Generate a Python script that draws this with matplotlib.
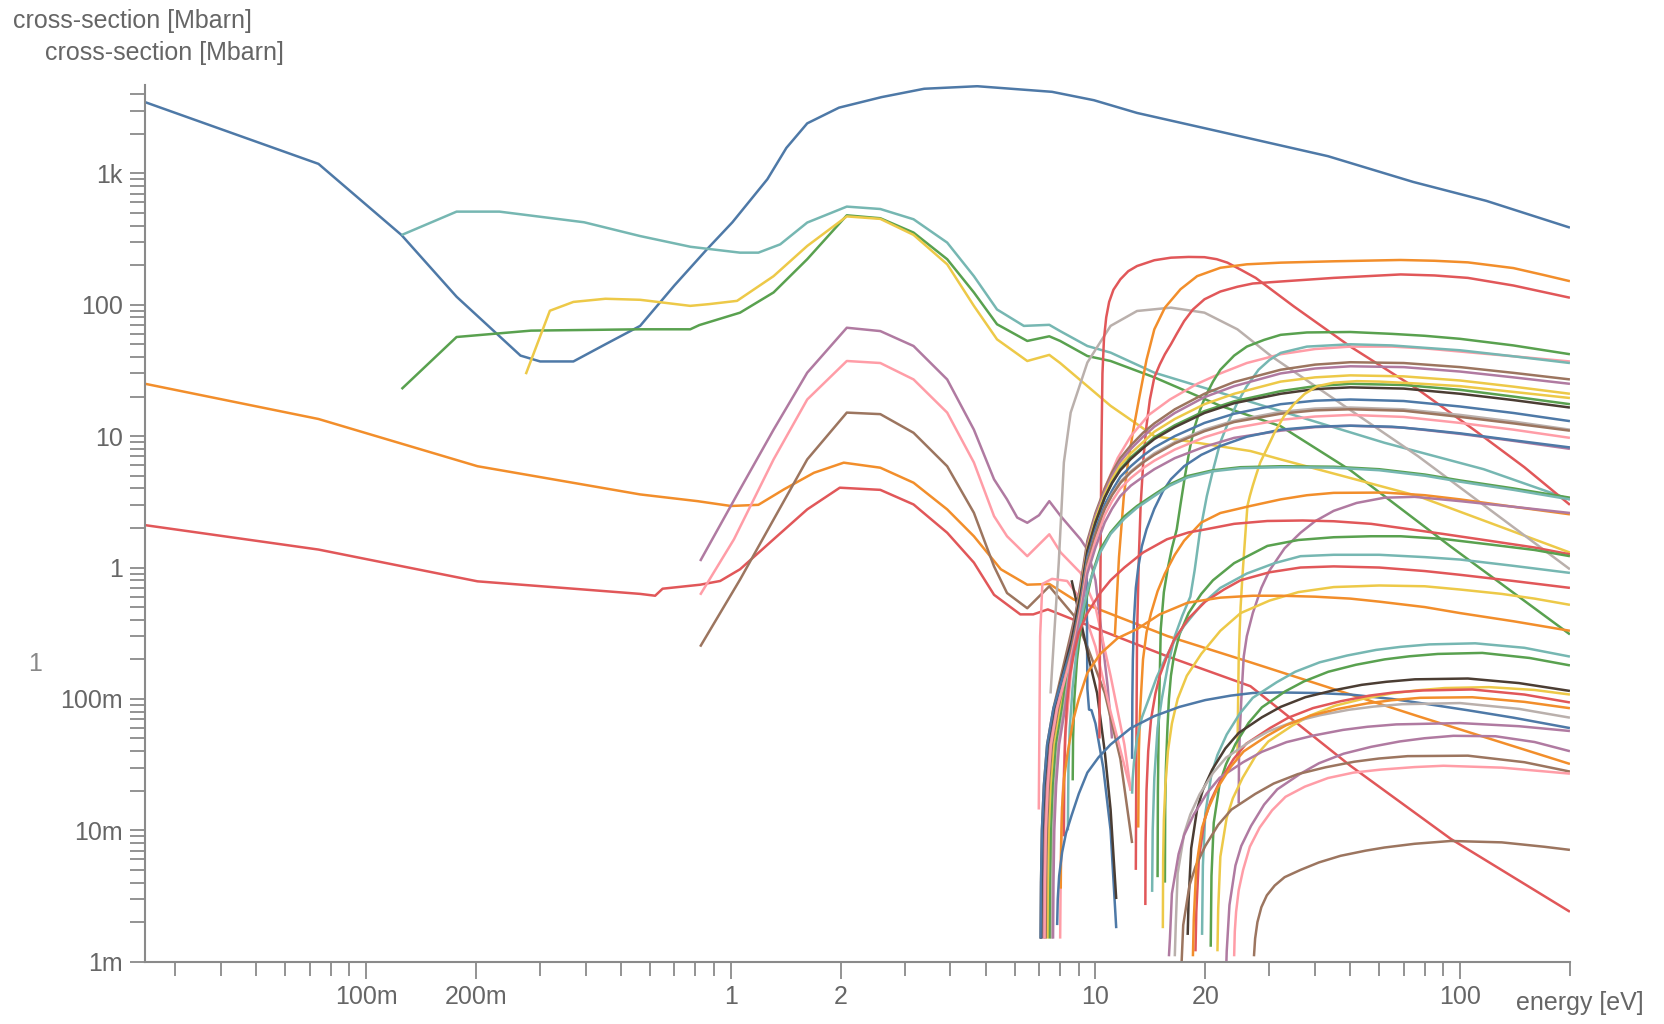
import matplotlib
matplotlib.use("Agg")
import matplotlib.pyplot as plt
from matplotlib.ticker import FixedLocator, FixedFormatter, NullFormatter

plt.rcParams['font.family'] = ['Liberation Sans', 'DejaVu Sans']

BLUE = '#4e79a7'
ORANGE = '#f28e2b'
RED = '#e15759'
TEAL = '#76b7b2'
GREEN = '#59a14f'
YELLOW = '#edc948'
PURPLE = '#b07aa1'
PINK = '#ff9da7'
BROWN = '#9c755f'
GRAY = '#bab0ac'
DARK = '#4b3d33'

# ---- main curves (energy eV, cross-section Mbarn) ----
blue_e = [0.0248, 0.074, 0.125, 0.177, 0.265, 0.30, 0.37, 0.453, 0.564, 0.70, 0.86, 1.01, 1.26, 1.42, 1.62, 1.98,
          2.59, 3.39, 4.74, 7.6, 9.9, 13.0, 22.2, 43.4, 74.3, 118, 200]
blue_s = [3475, 1180, 339, 115, 41, 37, 37, 50, 69, 140, 264, 424, 903, 1560, 2400, 3160,
          3800, 4400, 4600, 4170, 3600, 2880, 2060, 1350, 860, 617, 386]

orange_e = [0.0248, 0.074, 0.202, 0.564, 0.81, 1.0, 1.19, 1.4, 1.69, 2.04, 2.57, 3.17, 3.92, 4.64, 5.5, 6.5,
            7.47, 8.73, 15.8, 26.6, 76.5, 200]
orange_s = [25, 13.5, 5.9, 3.6, 3.2, 2.94, 3.0, 3.94, 5.26, 6.28, 5.75, 4.42, 2.77, 1.73, 0.97, 0.74,
            0.75, 0.57, 0.30, 0.19, 0.074, 0.032]

red_e = [0.0248, 0.074, 0.202, 0.396, 0.564, 0.62, 0.65, 0.824, 0.935, 1.06, 1.31, 1.62, 1.99, 2.57, 3.17, 3.92,
         4.64, 5.27, 6.22, 6.75, 7.4, 8.73, 15.8, 26.6, 50, 94.3, 200]
red_s = [2.1, 1.37, 0.785, 0.68, 0.63, 0.61, 0.69, 0.74, 0.79, 0.97, 1.64, 2.77, 4.05, 3.9, 3.02, 1.84,
         1.09, 0.62, 0.44, 0.44, 0.48, 0.40, 0.21, 0.125, 0.031, 0.0086, 0.0024]

teal_e = [0.125, 0.177, 0.232, 0.396, 0.564, 0.775, 1.06, 1.19, 1.366, 1.62, 2.08, 2.57, 3.17, 3.92, 4.64, 5.37,
          6.36, 7.47, 8.0, 9.5, 11.0, 14.5, 27, 62, 116, 200]
teal_s = [339, 511, 511, 424, 333, 276, 249, 249, 288, 422, 558, 535, 447, 297, 165, 92,
          69, 70.3, 63, 48.5, 43.2, 30.4, 18, 8.9, 5.6, 3.3]

green_e = [0.125, 0.177, 0.283, 0.564, 0.774, 0.82, 1.06, 1.31, 1.62, 2.08, 2.57, 3.17, 3.92, 4.64, 5.37, 6.5,
           7.47, 8.0, 9.5, 11.0, 14.5, 22, 32.2, 50, 94, 200]
green_s = [22.8, 56.8, 63.5, 65, 65, 70, 87, 124, 222, 479, 455, 354, 222, 124, 71, 53,
           57.5, 53, 40.7, 37.3, 28, 17, 11.9, 5.5, 1.45, 0.31]

yellow_e = [0.274, 0.319, 0.37, 0.453, 0.564, 0.774, 0.87, 1.04, 1.31, 1.62, 2.08, 2.57, 3.17, 3.92, 4.64, 5.37,
            6.5, 7.47, 8.0, 11.0, 14.5, 26.6, 32.2, 76.5, 200]
yellow_s = [29.6, 90, 105, 111, 109, 98, 101, 107, 165, 280, 470, 450, 340, 203, 98, 54.5,
            37.3, 41.5, 36, 17, 10, 7.7, 6.65, 3.5, 1.3]

purple_e = [0.824, 1.06, 1.31, 1.62, 2.08, 2.57, 3.17, 3.92, 4.64, 5.27, 5.72, 6.1, 6.5, 7.0, 7.47, 8.03,
            9.1, 9.5, 10.0, 10.8, 11.1]
purple_s = [1.12, 3.94, 11.2, 30.4, 66.8, 63, 48.5, 27, 11.2, 4.69, 3.3, 2.4, 2.19, 2.5, 3.2, 2.46,
            1.64, 1.37, 0.8, 0.124, 0.05]

pink_e = [0.824, 1.02, 1.31, 1.62, 2.08, 2.57, 3.17, 3.92, 4.64, 5.27, 5.72, 6.5, 7.47, 8.03, 9.1, 10.0,
          11.0, 12.0, 12.5]
pink_s = [0.62, 1.64, 6.65, 19, 37.3, 36, 27, 15.1, 6.3, 2.46, 1.73, 1.22, 1.79, 1.3, 0.91, 0.5,
          0.15, 0.045, 0.02]

brown_e = [0.824, 1.06, 1.31, 1.62, 2.08, 2.57, 3.17, 3.92, 4.64, 5.27, 5.72, 6.5, 7.47, 8.73, 9.5, 10.6,
           11.7, 12.6]
brown_s = [0.25, 0.81, 2.32, 6.65, 15.1, 14.7, 10.6, 5.9, 2.61, 1.02, 0.64, 0.49, 0.72, 0.43, 0.25, 0.111,
           0.035, 0.008]

gray_e = [7.53, 7.7, 7.93, 8.19, 8.55, 9.5, 11.0, 13.0, 16.1, 19.9, 24.5, 30.3, 76.5, 200]
gray_s = [0.11, 0.3, 1.09, 6.3, 15.1, 36.3, 69, 89.6, 95, 87, 65, 40.7, 7.06, 0.97]

# ---- short decaying curves around 7-12 eV ----
pinkspike_e = [6.99, 7.05, 7.15, 7.6, 8.36, 9.0, 10.0, 11.0, 12.5]
pinkspike_s = [0.0144, 0.3, 0.75, 0.82, 0.79, 0.6, 0.25, 0.08, 0.02]
bluedecay_e = [9.45, 9.5, 9.6, 9.75, 10.0, 10.5, 11.0, 11.4]
bluedecay_s = [1.2, 0.12, 0.083, 0.082, 0.065, 0.03, 0.01, 0.0018]
darkdecay_e = [8.6, 9.1, 9.6, 10.1, 10.6, 11.0, 11.4]
darkdecay_s = [0.8, 0.40, 0.2, 0.111, 0.04, 0.0144, 0.003]

# ---- dense bundle, onset near 7-8 eV ----
bundle_tail_e = [8.6, 8.85, 9.1, 9.5, 10.0, 10.6, 11.1, 11.7, 12.5, 13.5, 14.5, 16.5, 19.9, 24, 32.2, 40, 50, 70,
                 100, 140, 200]
bundle_head_s = [0.0015, 0.004, 0.01, 0.022, 0.045, 0.085]
b1_e = [7.07, 7.09, 7.13, 7.22, 7.37, 7.67] + bundle_tail_e
b1_s = bundle_head_s + [0.33, 0.47, 0.75, 1.6, 2.6, 4.0, 5.3, 6.8, 8.5, 10.6, 12.5, 16, 21, 25.8, 32, 35, 36.5, 36,
                        33.5, 30.3, 27]
b2_e = [7.2, 7.22, 7.26, 7.35, 7.5, 7.8] + bundle_tail_e
b2_s = bundle_head_s + [0.3, 0.45, 0.7, 1.5, 2.5, 3.8, 5.0, 6.4, 8.0, 9.9, 11.8, 15, 19.8, 24, 30, 32.7, 34, 33.5,
                        31, 28, 25]
b3_e = [7.4, 7.42, 7.46, 7.55, 7.7, 8.0] + bundle_tail_e
b3_s = bundle_head_s + [0.28, 0.42, 0.65, 1.4, 2.35, 3.6, 4.7, 6.0, 7.4, 9.0, 10.8, 13.5, 17.5, 21, 26, 28, 29, 28.5,
                        26.5, 23.8, 21]
b4_e = [7.5, 7.52, 7.56, 7.65, 7.8, 8.1] + bundle_tail_e
b4_s = bundle_head_s + [0.26, 0.4, 0.6, 1.3, 2.2, 3.4, 4.4, 5.6, 6.9, 8.3, 9.8, 12.1, 15.5, 18.4, 22, 24, 25, 24.5,
                        22.5, 20, 17.5]
b5_e = [7.1, 7.12, 7.16, 7.25, 7.4, 7.7] + bundle_tail_e
b5_s = bundle_head_s + [0.28, 0.42, 0.62, 1.35, 2.2, 3.4, 4.4, 5.5, 6.7, 8.1, 9.5, 11.7, 15, 17.8, 21, 22.8, 23.5, 23,
                        21, 18.8, 16.5]
b6_e = [7.07, 7.09, 7.13, 7.22, 7.37, 7.67] + bundle_tail_e
b6_s = bundle_head_s + [0.25, 0.37, 0.55, 1.2, 1.95, 3.0, 3.85, 4.9, 5.9, 7.1, 8.2, 10, 12.6, 14.8, 17.5, 18.6, 19,
                        18.5, 16.8, 15, 13]
b7_e = [7.6, 7.62, 7.66, 7.75, 7.9, 8.2] + bundle_tail_e
b7_s = bundle_head_s + [0.22, 0.33, 0.5, 1.1, 1.8, 2.8, 3.6, 4.5, 5.4, 6.4, 7.4, 9, 11.2, 13.1, 15.3, 16.2, 16.5, 16,
                        14.5, 12.9, 11.2]
b8_e = [7.3, 7.32, 7.36, 7.45, 7.6, 7.9] + bundle_tail_e
b8_s = bundle_head_s + [0.24, 0.35, 0.52, 1.1, 1.8, 2.8, 3.55, 4.4, 5.3, 6.3, 7.2, 8.8, 10.9, 12.8, 14.8, 15.7, 16,
                        15.6, 14, 12.5, 11]
b9_e = [7.25, 7.27, 7.31, 7.4, 7.55, 7.85] + bundle_tail_e
b9_s = bundle_head_s + [0.22, 0.32, 0.48, 1.0, 1.6, 2.5, 3.2, 4.0, 4.8, 5.7, 6.5, 7.9, 9.8, 11.5, 13.3, 14.1, 14.5,
                        14, 12.6, 11.2, 9.7]
b10_e = [7.65, 7.67, 7.71, 7.8, 7.95, 8.25] + bundle_tail_e
b10_s = bundle_head_s + [0.2, 0.29, 0.43, 0.9, 1.42, 2.2, 2.8, 3.5, 4.2, 4.9, 5.6, 6.8, 8.3, 9.7, 11, 11.7, 12,
                         11.6, 10.4, 9.2, 8.0]

# ---- upper threshold curves ----
pink37_e = [8.0, 8.03, 8.1, 8.3, 8.55, 8.8, 9.1, 9.5, 10, 10.6, 11.5, 12.5, 14, 16, 19, 22, 26, 32.2, 40, 50, 65,
            80, 100, 140, 200]
pink37_s = [0.0015, 0.005, 0.015, 0.06, 0.15, 0.3, 0.6, 1.2, 2.3, 4, 6.8, 10, 14.5, 19, 25, 30, 36, 42, 46, 48, 48,
            46.5, 44, 40.5, 37]
green42_e = [14.8, 14.83, 14.9, 15.1, 15.4, 15.8, 16.2, 16.7, 17.1, 17.6, 18.1, 18.6, 19.3, 20, 21, 22, 24, 26, 29,
             32.2, 38, 50, 65, 80, 100, 140, 200]
green42_s = [0.0044, 0.02, 0.06, 0.34, 0.65, 1.0, 1.4, 1.95, 3.0, 5.0, 7.8, 11.2, 15.5, 20, 26, 32, 41, 48, 54,
             59, 61.5, 62, 60, 58, 55, 49, 42]
teal36_e = [14.3, 14.35, 14.5, 14.8, 15.2, 15.8, 16.5, 17.3, 18.2, 18.7, 19.3, 20.2, 21, 22, 23.2, 24.5, 26, 28, 30,
            32.2, 38, 50, 65, 80, 100, 140, 200]
teal36_s = [0.0034, 0.01, 0.025, 0.06, 0.1, 0.18, 0.3, 0.43, 0.6, 0.95, 1.8, 3.5, 5.5, 9, 13, 18, 24, 32, 38, 43,
            48, 50, 49, 47, 45, 40.5, 36]
navy_e = [12.6, 12.62, 12.66, 12.75, 12.9, 13.1, 13.4, 13.8, 14.5, 15.3, 16.1, 17.5, 19.5, 22, 26, 32.2, 40, 50, 65,
          80, 100, 140, 200]
navy_s = [0.035, 0.1, 0.2, 0.4, 0.7, 1.0, 1.45, 1.95, 2.8, 3.8, 4.7, 5.9, 7.2, 8.4, 9.9, 11.2, 11.8, 12, 11.8, 11.2,
          10.5, 9.3, 8.2]
redpeak_e = [10.25, 10.28, 10.32, 10.38, 10.45, 10.55, 10.7, 10.9, 11.2, 11.7, 12.3, 13.0, 14.5, 16.1, 18, 19.9,
             21.5, 23.0, 25, 27.5, 35, 50, 76.5, 110, 150, 200]
redpeak_s = [0.05, 0.2, 1.0, 8, 30, 55, 80, 105, 130, 156, 180, 197, 218, 228, 231, 230, 222, 209, 185, 160, 97, 48,
             22.7, 11, 5.8, 3.0]
orangehi_e = [11.3, 11.4, 11.6, 11.96, 12.3, 12.7, 13.2, 13.8, 14.5, 15.5, 17.1, 19, 22, 26, 32.2, 45, 68.6, 85,
              105, 140, 170, 200]
orangehi_s = [0.3, 0.48, 1.2, 3.5, 6.5, 11.2, 20, 38, 65, 95, 131, 165, 191, 203, 209, 214, 219, 216, 210, 190, 168,
              151]
redhi_e = [12.9, 12.95, 13.0, 13.15, 13.3, 13.55, 13.8, 14.1, 14.5, 15.0, 15.5, 16.1, 16.7, 17.5, 18.5, 19.9, 22,
           24.5, 27, 32, 45, 68.7, 85, 105, 140, 200]
redhi_s = [0.005, 0.05, 0.3, 1.2, 3, 7, 12, 19, 28, 35, 42, 50, 60, 75, 92, 110, 126, 137, 145, 150, 160, 170, 167,
           160, 140, 113]
yellowlate_e = [24.5, 24.6, 24.7, 24.85, 25.0, 25.25, 25.5, 25.8, 26.1, 26.5, 27, 27.6, 28.3, 29.5, 30.9, 32.9, 35,
                37.5, 40.6, 45, 52, 60, 75, 100, 140, 200]
yellowlate_s = [0.035, 0.09, 0.2, 0.33, 0.5, 0.8, 1.2, 1.9, 2.94, 3.5, 4.2, 5.1, 6.3, 8.0, 10.5, 14.2, 17.5, 21, 24,
                25.5, 26.2, 26, 25.2, 24, 21.7, 19.5]

# ---- middle threshold curves ----
green3_e = [8.66, 8.68, 8.75, 8.9, 9.1, 9.4, 9.8, 10.3, 11, 12, 13, 14.5, 16, 17.9, 21, 25, 32.2, 45, 60, 80, 100,
            140, 200]
green3_s = [0.024, 0.05, 0.1, 0.2, 0.33, 0.55, 0.9, 1.37, 1.85, 2.45, 2.94, 3.6, 4.3, 4.97, 5.5, 5.8, 5.9, 5.85, 5.6,
            5.1, 4.6, 4.0, 3.4]
teal3_e = [8.4, 8.43, 8.5, 8.65, 8.9, 9.2, 9.6, 10.3, 11, 12, 13, 14.5, 16, 17.9, 21, 25, 32.2, 45, 60, 80, 100,
           140, 200]
teal3_s = [0.01, 0.03, 0.06, 0.12, 0.25, 0.45, 0.75, 1.3, 1.8, 2.35, 2.85, 3.5, 4.2, 4.85, 5.4, 5.7, 5.8, 5.75, 5.5,
           5.0, 4.5, 3.9, 3.3]
orange25_e = [13.1, 13.15, 13.25, 13.5, 13.8, 14.2, 14.8, 15.5, 16.5, 17.5, 19.5, 22, 26.6, 32.2, 38, 45, 62, 80,
              100, 140, 200]
orange25_s = [0.0105, 0.04, 0.08, 0.2, 0.32, 0.45, 0.66, 0.9, 1.25, 1.6, 2.2, 2.6, 2.94, 3.3, 3.55, 3.7, 3.72, 3.55,
              3.3, 2.9, 2.54]
purplelate_e = [24.7, 24.75, 24.9, 25.2, 25.5, 26, 27, 28.5, 30, 33, 36.5, 40, 45, 52, 62, 75, 100, 140, 200]
purplelate_s = [0.016, 0.035, 0.06, 0.12, 0.21, 0.3, 0.45, 0.7, 0.95, 1.4, 1.84, 2.25, 2.7, 3.1, 3.4, 3.45, 3.2, 2.9,
                2.6]
red21_e = [8.19, 8.21, 8.25, 8.35, 8.5, 8.75, 9.0, 9.5, 10.3, 11, 12, 13.5, 15.7, 18, 20, 24, 29.6, 37, 45, 57, 68.7,
           90, 120, 160, 200]
red21_s = [0.009, 0.025, 0.05, 0.09, 0.15, 0.23, 0.32, 0.45, 0.64, 0.8, 1.0, 1.3, 1.64, 1.85, 1.95, 2.15, 2.26, 2.28,
           2.25, 2.15, 2.0, 1.8, 1.6, 1.42, 1.26]
green16_e = [15.5, 15.53, 15.6, 15.75, 15.9, 16.1, 16.4, 17, 18, 19.5, 21, 24, 29.6, 36, 45, 57, 68.7, 90, 120, 160,
             200]
green16_s = [0.004, 0.015, 0.03, 0.06, 0.1, 0.15, 0.21, 0.31, 0.45, 0.63, 0.8, 1.08, 1.46, 1.62, 1.7, 1.73, 1.73,
             1.65, 1.5, 1.36, 1.22]
teal11_e = [12.6, 12.65, 12.75, 13.0, 13.4, 14.0, 14.7, 15.5, 16.5, 17.5, 19.5, 22, 26, 31, 36.5, 45, 60, 80, 100,
            140, 200]
teal11_s = [0.019, 0.025, 0.033, 0.05, 0.072, 0.1, 0.145, 0.2, 0.28, 0.36, 0.52, 0.7, 0.9, 1.08, 1.22, 1.25, 1.25,
            1.2, 1.15, 1.03, 0.91]
red095_e = [13.7, 13.72, 13.8, 13.95, 14.2, 14.6, 15, 15.7, 16.4, 18, 20, 22.5, 25, 30, 36.5, 45, 60, 80, 100, 140,
            200]
red095_s = [0.0027, 0.008, 0.02, 0.04, 0.07, 0.11, 0.15, 0.21, 0.28, 0.41, 0.55, 0.68, 0.8, 0.92, 1.0, 1.02, 1.0,
            0.94, 0.88, 0.79, 0.70]
yellow075_e = [15.3, 15.33, 15.4, 15.55, 15.8, 16.2, 16.8, 17.8, 19.5, 22, 25, 30, 36, 45, 60, 80, 100, 130, 160, 200]
yellow075_s = [0.0018, 0.006, 0.012, 0.022, 0.04, 0.065, 0.1, 0.15, 0.22, 0.33, 0.45, 0.56, 0.65, 0.71, 0.73, 0.72,
               0.68, 0.63, 0.58, 0.52]
orange06_e = [8.03, 8.05, 8.1, 8.2, 8.4, 8.7, 9.0, 9.5, 10.3, 11.5, 13, 15, 17.9, 22, 27, 32.2, 40, 50, 60, 80, 100,
              140, 200]
orange06_s = [0.0036, 0.008, 0.015, 0.025, 0.04, 0.07, 0.1, 0.158, 0.22, 0.29, 0.34, 0.44, 0.54, 0.59, 0.61, 0.61,
              0.6, 0.58, 0.55, 0.5, 0.45, 0.39, 0.33]

# ---- lower threshold curves ----
low_teal_e = [19.6, 19.7, 20.0, 20.8, 21.6, 22.9, 24.9, 27.0, 31.4, 35.3, 41.2, 49.0, 58.8, 68.6, 82.3, 110, 150, 200]
low_teal_s = [0.0016, 0.0054, 0.0134, 0.0268, 0.0375, 0.0536, 0.0777, 0.102, 0.134, 0.161, 0.19, 0.214, 0.236, 0.249,
              0.26, 0.265, 0.245, 0.21]
low_green_e = [20.7, 20.8, 21.1, 21.9, 22.8, 24.2, 26.3, 28.6, 33.1, 37.3, 43.5, 51.8, 62.1, 72.5, 86.9, 115, 155, 200]
low_green_s = [0.0013, 0.0045, 0.0114, 0.0227, 0.0318, 0.0454, 0.0658, 0.0863, 0.114, 0.136, 0.161, 0.182, 0.2,
               0.211, 0.22, 0.224, 0.205, 0.18]
low_dark_e = [17.9, 18.0, 18.3, 19.0, 19.7, 20.9, 22.7, 24.7, 28.6, 32.2, 37.6, 44.8, 53.7, 62.7, 75.2, 105, 145, 200]
low_dark_s = [0.0016, 0.0029, 0.0073, 0.0145, 0.0203, 0.029, 0.042, 0.0551, 0.0725, 0.087, 0.103, 0.116, 0.128, 0.135,
              0.141, 0.143, 0.132, 0.115]
low_yellow_e = [21.6, 21.7, 22.0, 22.9, 23.8, 25.3, 27.4, 29.8, 34.6, 38.9, 45.4, 54.0, 64.8, 75.6, 90.7, 120, 160,
                200]
low_yellow_s = [0.0012, 0.0025, 0.0063, 0.0125, 0.0175, 0.025, 0.0363, 0.0475, 0.0625, 0.075, 0.0888, 0.1, 0.11,
                0.116, 0.121, 0.123, 0.117, 0.108]
low_red_e = [18.8, 18.9, 19.2, 19.9, 20.7, 22.0, 23.9, 25.9, 30.1, 33.8, 39.5, 47.0, 56.4, 65.8, 79.0, 108, 150, 200]
low_red_s = [0.0012, 0.0024, 0.006, 0.012, 0.0168, 0.024, 0.0348, 0.0456, 0.06, 0.072, 0.0852, 0.096, 0.106, 0.112,
             0.116, 0.118, 0.108, 0.094]
low_gray_e = [16.5, 16.6, 16.8, 17.5, 18.2, 19.3, 21.0, 22.8, 26.4, 29.7, 34.7, 41.3, 49.5, 57.8, 69.3, 100, 145, 200]
low_gray_s = [0.0011, 0.0019, 0.0047, 0.0094, 0.0132, 0.0188, 0.0273, 0.0357, 0.047, 0.0564, 0.0667, 0.0752, 0.0827,
              0.0874, 0.0912, 0.093, 0.084, 0.072]
low_blue_e = [7.85, 7.88, 7.95, 8.1, 8.3, 8.6, 9.0, 9.5, 10.2, 11, 12.5, 14.5, 17, 20, 23.5, 27, 32, 40, 50, 65, 80,
              105, 140, 200]
low_blue_s = [0.0019, 0.003, 0.0045, 0.0068, 0.0095, 0.013, 0.019, 0.0275, 0.036, 0.045, 0.06, 0.074, 0.087, 0.098,
              0.106, 0.111, 0.112, 0.111, 0.108, 0.1, 0.092, 0.082, 0.072, 0.06]
low_purple_e = [15.9, 16.0, 16.2, 16.9, 17.5, 18.6, 20.2, 21.9, 25.4, 28.6, 33.4, 39.8, 47.7, 55.7, 66.8, 100, 145,
                200]
low_purple_s = [0.0011, 0.0015, 0.0033, 0.0066, 0.0092, 0.0132, 0.0191, 0.0251, 0.033, 0.0396, 0.0469, 0.0528, 0.0581,
                0.0614, 0.064, 0.0655, 0.062, 0.057]
low_purple2_e = [22.8, 22.9, 23.3, 24.2, 25.1, 26.7, 29.0, 31.5, 36.5, 41.0, 47.9, 57.0, 68.4, 79.8, 95.8, 125, 160,
                 200]
low_purple2_s = [0.0008, 0.0012, 0.0027, 0.0054, 0.0076, 0.0108, 0.0157, 0.0205, 0.027, 0.0324, 0.0383, 0.0432,
                 0.0475, 0.0502, 0.0524, 0.052, 0.047, 0.04]
low_brown_e = [17.1, 17.2, 17.4, 18.1, 18.8, 20.0, 21.7, 23.6, 27.4, 30.8, 35.9, 42.8, 51.3, 59.9, 71.8, 105, 150, 200]
low_brown_s = [0.0006, 0.0009, 0.0019, 0.0038, 0.0053, 0.0076, 0.011, 0.0144, 0.0189, 0.0227, 0.0268, 0.0302, 0.0333,
               0.0352, 0.0367, 0.037, 0.033, 0.028]
low_pink_e = [24.0, 24.1, 24.3, 24.7, 25.4, 26.5, 28.2, 30.5, 33.2, 37.5, 43.4, 51, 60.7, 75, 90, 130, 200]
low_pink_s = [0.0011, 0.0017, 0.0024, 0.0035, 0.005, 0.0075, 0.0105, 0.0142, 0.018, 0.0215, 0.025, 0.0275, 0.029,
              0.0303, 0.031, 0.030, 0.027]
low_brown2_e = [27.2, 27.4, 27.8, 28.5, 29.5, 31, 33, 36.5, 41, 47, 55, 62, 75, 94.3, 130, 170, 200]
low_brown2_s = [0.0011, 0.0015, 0.002, 0.0026, 0.0032, 0.0038, 0.0044, 0.005, 0.0057, 0.0064, 0.007, 0.0074, 0.0079,
                0.0083, 0.0081, 0.0075, 0.0071]
low_orange_e = [18.5, 18.6, 18.9, 19.6, 20.4, 21.6, 23.5, 25.5, 29.6, 33.3, 38.9, 46.3, 55.5, 64.8, 77.7, 108, 150,
                200]
low_orange_s = [0.0011, 0.0021, 0.0053, 0.0105, 0.0147, 0.021, 0.0305, 0.0399, 0.0525, 0.063, 0.0746, 0.084, 0.0924,
                0.0977, 0.102, 0.103, 0.095, 0.085]

series = [
    (blue_e, blue_s, BLUE), (orange_e, orange_s, ORANGE), (red_e, red_s, RED),
    (teal_e, teal_s, TEAL), (green_e, green_s, GREEN), (yellow_e, yellow_s, YELLOW),
    (purple_e, purple_s, PURPLE), (pink_e, pink_s, PINK), (brown_e, brown_s, BROWN),
    (gray_e, gray_s, GRAY),
    (pinkspike_e, pinkspike_s, PINK), (bluedecay_e, bluedecay_s, BLUE), (darkdecay_e, darkdecay_s, DARK),
    (redpeak_e, redpeak_s, RED), (orangehi_e, orangehi_s, ORANGE), (redhi_e, redhi_s, RED),
    (pink37_e, pink37_s, PINK), (green42_e, green42_s, GREEN), (teal36_e, teal36_s, TEAL),
    (b1_e, b1_s, BROWN), (b2_e, b2_s, PURPLE), (b3_e, b3_s, YELLOW), (b4_e, b4_s, GREEN),
    (b5_e, b5_s, DARK), (b6_e, b6_s, BLUE), (b7_e, b7_s, GRAY), (b8_e, b8_s, BROWN),
    (b9_e, b9_s, PINK), (b10_e, b10_s, PURPLE), (navy_e, navy_s, BLUE),
    (yellowlate_e, yellowlate_s, YELLOW),
    (green3_e, green3_s, GREEN), (teal3_e, teal3_s, TEAL), (orange25_e, orange25_s, ORANGE),
    (purplelate_e, purplelate_s, PURPLE), (red21_e, red21_s, RED), (green16_e, green16_s, GREEN),
    (teal11_e, teal11_s, TEAL), (red095_e, red095_s, RED), (yellow075_e, yellow075_s, YELLOW),
    (orange06_e, orange06_s, ORANGE),
    (low_blue_e, low_blue_s, BLUE), (low_teal_e, low_teal_s, TEAL), (low_green_e, low_green_s, GREEN),
    (low_dark_e, low_dark_s, DARK), (low_yellow_e, low_yellow_s, YELLOW), (low_red_e, low_red_s, RED),
    (low_gray_e, low_gray_s, GRAY), (low_purple_e, low_purple_s, PURPLE),
    (low_purple2_e, low_purple2_s, PURPLE), (low_brown_e, low_brown_s, BROWN),
    (low_pink_e, low_pink_s, PINK), (low_brown2_e, low_brown2_s, BROWN),
    (low_orange_e, low_orange_s, ORANGE),
]

x_major = [0.1, 0.2, 1, 2, 10, 20, 100]
x_major_labels = ['100m', '200m', '1', '2', '10', '20', '100']
x_minor = [0.03, 0.04, 0.05, 0.06, 0.07, 0.08, 0.09, 0.3, 0.4, 0.5, 0.6, 0.7, 0.8, 0.9,
           3, 4, 5, 6, 7, 8, 9, 30, 40, 50, 60, 70, 80, 90, 200]
y_major = [1e-3, 1e-2, 1e-1, 1, 10, 100, 1000]
y_major_labels = ['1m', '10m', '100m', '1', '10', '100', '1k']

fig = plt.figure(figsize=(16.65, 10.24), dpi=100)
ax = fig.add_axes([0.0871, 0.0608, 0.8558, 0.8562])

for e, s, c in series:
    ax.plot(e, s, color=c, lw=1.8, solid_joinstyle='round', solid_capstyle='butt')

ax.set_xscale('log')
ax.set_yscale('log')
ax.set_xlim(0.02475, 200)
ax.set_ylim(1e-3, 4700)

axis_col = '#8a8a8a'
text_col = '#666666'
for side in ['top', 'right']:
    ax.spines[side].set_visible(False)
for side in ['left', 'bottom']:
    ax.spines[side].set_color(axis_col)
    ax.spines[side].set_linewidth(1.5)

ax.xaxis.set_major_locator(FixedLocator(x_major))
ax.xaxis.set_major_formatter(FixedFormatter(x_major_labels))
ax.xaxis.set_minor_locator(FixedLocator(x_minor))
ax.xaxis.set_minor_formatter(NullFormatter())
ax.yaxis.set_major_locator(FixedLocator(y_major))
ax.yaxis.set_major_formatter(FixedFormatter(y_major_labels))
y_minor = [m * d for d in [1e-3, 1e-2, 1e-1, 1, 10, 100, 1000] for m in range(2, 10) if m * d <= 4700]
ax.yaxis.set_minor_locator(FixedLocator(y_minor))
ax.yaxis.set_minor_formatter(NullFormatter())

ax.tick_params(axis='both', which='both', direction='out', color=axis_col, width=1.3,
               labelcolor=text_col, labelsize=18)
ax.tick_params(axis='y', which='both', length=11, pad=5)
ax.tick_params(axis='x', which='major', length=12, pad=5)
ax.tick_params(axis='x', which='minor', length=10)

fig.text(12.7 / 1665, 1 - 21 / 1024, 'cross-section [Mbarn]', ha='left', va='center', fontsize=18, color=text_col)
fig.text(44.6 / 1665, 1 - 53 / 1024, 'cross-section [Mbarn]', ha='left', va='center', fontsize=18, color=text_col)
fig.text(1644 / 1665, 1 - 1003 / 1024, 'energy [eV]', ha='right', va='center', fontsize=18, color=text_col)
fig.text(28 / 1665, 1 - 664 / 1024, '1', ha='left', va='center', fontsize=18, color='#888888')

fig.savefig('out.png', dpi=100)
